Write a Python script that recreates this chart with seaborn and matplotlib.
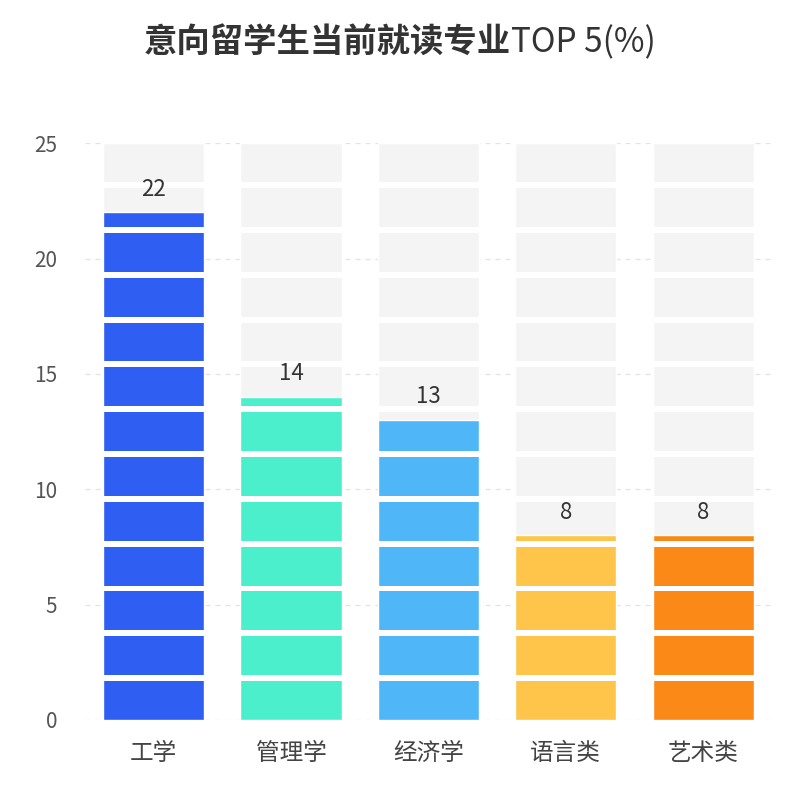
import seaborn as sns
import matplotlib.pyplot as plt
import pandas as pd

# dados do grafico
categorias = ['工学', '管理学', '经济学', '语言类', '艺术类']
valores = [22, 14, 13, 8, 8]
cores = ['#2f5ef2', '#4cefcb', '#4fb7f8', '#fec54a', '#fb8918']
y_max = 25

sns.set_theme(style='white')
plt.rcParams['font.family'] = ['Noto Sans CJK SC', 'DejaVu Sans']

df = pd.DataFrame({'cat': categorias, 'valor': valores, 'fundo': [y_max] * len(categorias)})

fig = plt.figure(figsize=(8, 8), dpi=100)
ax = fig.add_axes([0.106, 0.1, 0.859, 0.721])

# barras de fundo cinza
sns.barplot(data=df, x='cat', y='fundo', color='#f4f4f4', width=0.736, ax=ax, zorder=1)
# barras coloridas
sns.barplot(data=df, x='cat', y='valor', hue='cat', palette=dict(zip(categorias, cores)),
            width=0.736, legend=False, ax=ax, zorder=2, saturation=1)

# separadores brancos (efeito de blocos repetidos)
n_seg = 13
gap = y_max / (n_seg * 6.5 + (n_seg - 1))
seg = 6.5 * gap
periodo = seg + gap
for k in range(n_seg - 1):
    ax.axhspan(k * periodo + seg, (k + 1) * periodo, color='white', zorder=3, lw=0)

# rotulos de valor
for i, v in enumerate(valores):
    ax.annotate(str(v), (i, v), xytext=(0, 12), textcoords='offset points',
                ha='center', va='baseline', fontsize=16, color='#333333', zorder=5)

ax.set_ylim(0, y_max)
ax.set_xlim(-0.5, len(categorias) - 0.5)
ax.set_yticks([0, 5, 10, 15, 20, 25])
ax.yaxis.grid(True, linestyle=(0, (4, 4)), color='#e3e3e3', linewidth=0.9, zorder=0)
ax.set_axisbelow(True)
for s in ax.spines.values():
    s.set_visible(False)
ax.tick_params(axis='y', length=0, pad=20, labelsize=15, labelcolor='#555555')
ax.tick_params(axis='x', length=0, pad=16, labelsize=17, labelcolor='#444444')
ax.set_xlabel('')
ax.set_ylabel('')

# titulo: parte chinesa em negrito, parte latina normal
t1 = fig.text(0.18, 0.946, '意向留学生当前就读专业', ha='left', va='center',
              fontsize=24, fontweight='bold', color='#333333')
ax.annotate('TOP 5(%)', xy=(1, 0.5), xycoords=t1, ha='left', va='center',
            fontsize=24, color='#333333', annotation_clip=False)

fig.savefig('out.png', dpi=100)
